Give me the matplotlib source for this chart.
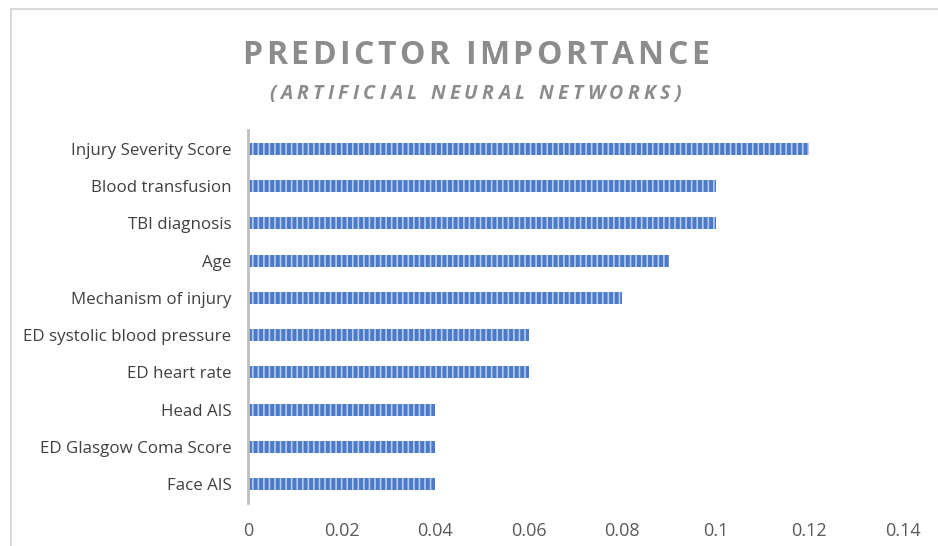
import matplotlib
matplotlib.use("Agg")
import matplotlib.pyplot as plt
from matplotlib.patches import Rectangle

categories = ["Injury Severity Score", "Blood transfusion", "TBI diagnosis", "Age",
              "Mechanism of injury", "ED systolic blood pressure", "ED heart rate",
              "Head AIS", "ED Glasgow Coma Score", "Face AIS"]
values = [0.12, 0.10, 0.10, 0.09, 0.08, 0.06, 0.06, 0.04, 0.04, 0.04]
xticks = [0, 0.02, 0.04, 0.06, 0.08, 0.1, 0.12, 0.14]
xticklabels = ["0", "0.02", "0.04", "0.06", "0.08", "0.1", "0.12", "0.14"]
title = "PREDICTOR IMPORTANCE"
subtitle = "(ARTIFICIAL NEURAL NETWORKS)"

plt.rcParams['font.family'] = ['Open Sans', 'DejaVu Sans']
plt.rcParams['hatch.linewidth'] = 1.2

W, H = 938, 546
fig = plt.figure(figsize=(W/100, H/100), dpi=100)
fig.patch.set_facecolor("white")

# outer border (left/top visible)
fig.patches.append(Rectangle((11/W, -0.05), 1.2, 1 - 9/H + 0.05, transform=fig.transFigure,
                             fill=False, edgecolor="#d9d9d9", linewidth=1.5))

ax = fig.add_axes([248/W, 1 - 503/H, (902.7 - 248)/W, (503 - 130)/H])
y = list(range(len(categories)))
ax.barh(y, values, height=0.32, color="#4a7ac8", edgecolor="#b8cbea",
        hatch="|||", linewidth=0)
ax.set_yticks(y)
ax.set_yticklabels(categories, fontsize=12.2, color="#404040")
ax.set_ylim(len(categories) - 0.5, -0.5)
ax.set_xlim(0, 0.14)
ax.set_xticks(xticks)
ax.set_xticklabels(xticklabels, fontsize=13, color="#595959")
ax.tick_params(axis="both", length=0)
ax.tick_params(axis="x", pad=14)
ax.tick_params(axis="y", pad=12)
for s in ["top", "right", "bottom"]:
    ax.spines[s].set_visible(False)
ax.spines["left"].set_color("#bfbfbf")
ax.spines["left"].set_linewidth(2)

def spaced_text(txt, xc, yc, spacing, **kw):
    # draw text with letter spacing (px), centered at xc (pixels)
    r = fig.canvas.get_renderer()
    widths = []
    arts = []
    for ch in txt:
        t = fig.text(0, 0, ch, **kw)
        bb = t.get_window_extent(renderer=r)
        w = bb.width
        if ch == " ":
            t2 = fig.text(0, 0, "a a", **kw)
            t3 = fig.text(0, 0, "aa", **kw)
            w = t2.get_window_extent(renderer=r).width - t3.get_window_extent(renderer=r).width
            t2.remove(); t3.remove()
        widths.append(w)
        arts.append(t)
    total = sum(widths) + spacing * (len(txt) - 1)
    x = xc - total / 2
    for t, w in zip(arts, widths):
        t.set_position((x / W, 1 - yc / H))
        t.set_ha("left")
        t.set_va("center")
        x += w + spacing

spaced_text(title, 475.5, 55, 3.5, fontsize=23, fontweight="bold", color="#8c8c8c")
spaced_text(subtitle, 475, 94, 4.3, fontsize=14, fontstyle="italic", fontweight="bold", color="#8c8c8c")

fig.savefig("out.png", dpi=100, facecolor="white")
